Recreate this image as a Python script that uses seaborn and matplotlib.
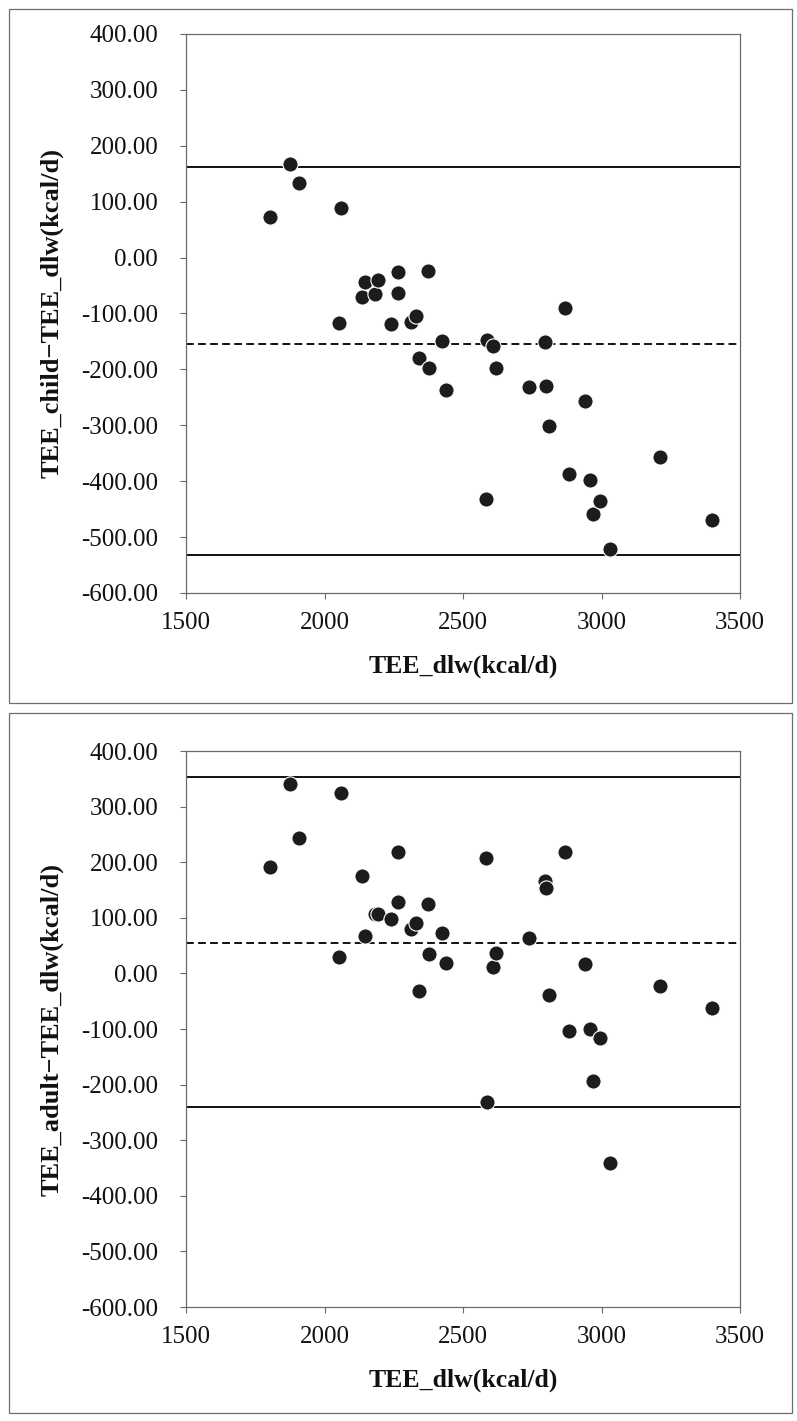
import matplotlib
matplotlib.use("Agg")
import matplotlib.pyplot as plt
import seaborn as sns
import pandas as pd
from matplotlib.patches import Rectangle
from matplotlib.ticker import FuncFormatter

# Doubly labelled water reference TEE (kcal/d) for each subject
tee_dlw = [1805, 1876, 1907, 2052, 2060, 2136, 2146, 2182, 2194, 2240,
           2265, 2266, 2313, 2331, 2340, 2372, 2376, 2425, 2438, 2583,
           2585, 2610, 2620, 2740, 2796, 2798, 2810, 2870, 2884, 2940,
           2957, 2968, 2996, 3032, 3210, 3398]

# TEE_child - TEE_dlw (kcal/d)
diff_child = [72, 168, 134, -117, 88, -71, -43, -65, -40, -119,
              -25, -63, -115, -105, -180, -24, -197, -150, -237, -432,
              -147, -159, -197, -232, -151, -229, -302, -90, -387, -256,
              -398, -459, -436, -522, -357, -469]

# TEE_adult - TEE_dlw (kcal/d)
diff_adult = [192, 340, 244, 30, 324, 175, 68, 107, 106, 98,
              219, 128, 80, 91, -31, 125, 34, 72, 18, 207,
              -232, 11, 37, 64, 167, 154, -39, 219, -104, 17,
              -100, -193, -117, -341, -23, -63]

# Mean difference and limits of agreement (upper, mean, lower)
child_lines = [162, -155, -532]
adult_lines = [353, 54, -240]

y_ticks = [400, 300, 200, 100, 0, -100, -200, -300, -400, -500, -600]
x_ticks = [1500, 2000, 2500, 3000, 3500]

xlabel = "TEE_dlw(kcal/d)"
ylabel_child = "TEE_child\u2212TEE_dlw(kcal/d)"
ylabel_adult = "TEE_adult\u2212TEE_dlw(kcal/d)"

sns.set_style("ticks")
plt.rcParams["font.family"] = ["Liberation Serif", "DejaVu Serif"]
plt.rcParams["axes.unicode_minus"] = False

W, H = 797, 1421
fig = plt.figure(figsize=(W / 100, H / 100), dpi=100)


def px_rect(left, top, right, bottom):
    return [left / W, 1 - bottom / H, (right - left) / W, (bottom - top) / H]


ax_top = fig.add_axes(px_rect(186, 34, 740, 593))
ax_bot = fig.add_axes(px_rect(186, 751, 740, 1307))

# Panel frames
for (l, t, r, b) in [(9, 9, 792, 703), (9, 713, 792, 1413)]:
    fig.patches.append(Rectangle((l / W, 1 - b / H), (r - l) / W, (b - t) / H,
                                 transform=fig.transFigure, fill=False,
                                 edgecolor="#6e6e6e", linewidth=0.9))


def draw_panel(ax, diffs, lines, ylabel):
    df = pd.DataFrame({"x": tee_dlw, "y": diffs})
    upper, mean, lower = lines
    ax.axhline(upper, color="#111111", lw=1.4, zorder=1)
    ax.axhline(lower, color="#111111", lw=1.4, zorder=1)
    ax.axhline(mean, color="#111111", lw=1.4, ls=(0, (4, 2.2)), zorder=1)
    sns.scatterplot(data=df, x="x", y="y", ax=ax, s=120, color="#1c1c1c",
                    edgecolor="white", linewidth=0.8, zorder=3, legend=False)
    ax.set_xlim(1500, 3500)
    ax.set_ylim(-600, 400)
    ax.set_xticks(x_ticks)
    ax.set_yticks(y_ticks)
    ax.yaxis.set_major_formatter(FuncFormatter(lambda v, p: f"{v:.2f}"))
    ax.xaxis.set_major_formatter(FuncFormatter(lambda v, p: f"{v:.0f}"))
    for sp in ax.spines.values():
        sp.set_color("#6a6a6a")
        sp.set_linewidth(0.9)
    ax.tick_params(axis="y", direction="out", length=4.5, width=0.8,
                   color="#6a6a6a", pad=15.5, labelsize=18, labelcolor="#111111")
    ax.tick_params(axis="x", direction="out", length=4.5, width=0.8,
                   color="#6a6a6a", pad=9, labelsize=18, labelcolor="#111111")
    ax.set_xlabel(xlabel, fontsize=18.5, fontweight="bold", color="#111111")
    ax.set_ylabel(ylabel, fontsize=19, fontweight="bold", color="#111111")
    ax.xaxis.label.set_va("center")
    ax.yaxis.label.set_va("center")
    ax.xaxis.set_label_coords(0.5, -0.131)
    ax.yaxis.set_label_coords(-0.242, 0.5)


draw_panel(ax_top, diff_child, child_lines, ylabel_child)
draw_panel(ax_bot, diff_adult, adult_lines, ylabel_adult)

fig.savefig("out.png", dpi=100, facecolor="white")
